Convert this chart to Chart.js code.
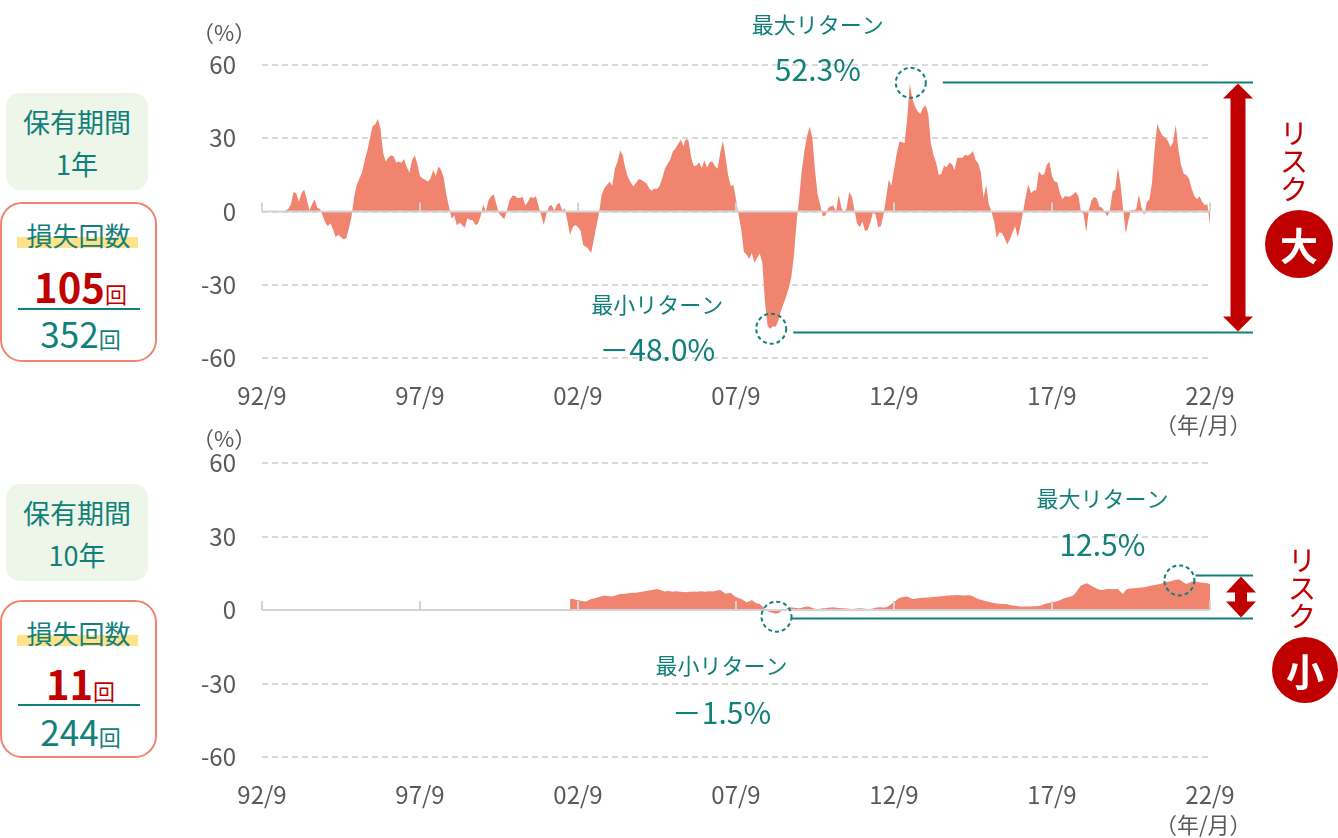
<!DOCTYPE html>
<html lang="ja">
<head>
<meta charset="utf-8">
<script src="https://cdn.jsdelivr.net/npm/chart.js@4"></script>
<style>
  html, body { margin: 0; padding: 0; background: #fff; }
  body { width: 1338px; height: 838px; position: relative; overflow: hidden;
         font-family: "Noto Sans CJK JP", sans-serif; }
  canvas { position: absolute; left: 180px; }
  .abs { position: absolute; white-space: nowrap; }
  .hold { position: absolute; left: 6px; width: 142px; height: 97px; box-sizing: border-box;
          border-radius: 14px; background: #eef6ea; color: #11807a; font-size: 27px;
          text-align: center; line-height: 42px; padding-top: 8px; }
  .loss { position: absolute; left: 0; width: 157px; height: 160px; box-sizing: border-box;
          border: 2px solid #f0846f; border-radius: 22px; background: #fff; }
  .loss div { position: absolute; left: 0; right: 0; text-align: center; }
  .loss .hl { left: 15px; right: 17px; height: 11px; background: #ffe28a; }
  .loss .ttl { color: #11807a; font-size: 26px; line-height: 30px; }
  .loss .cnt { color: #c00000; font-size: 40px; font-weight: bold; line-height: 44px; padding-left: 4px; }
  .loss .bar { left: 16px; right: 15px; height: 2px; background: #11807a; }
  .loss .tot { color: #11807a; font-size: 35px; line-height: 40px; padding-left: 4px; }
  .loss small { font-size: 22px; font-weight: normal; }
  .unit { color: #595959; font-size: 22px; }
  .risk { color: #c00000; font-size: 28px; line-height: 28px; width: 30px; text-align: center; }
  .dot { position: absolute; border-radius: 50%; background: #c00000; color: #fff;
         font-size: 38px; font-weight: bold; text-align: center; }
</style>
</head>
<body>
<canvas id="c1" width="1158" height="420" style="top:0"></canvas>
<canvas id="c2" width="1158" height="419" style="top:400px"></canvas>

<div class="abs unit" style="left:192px; top:15px">（%）</div>
<div class="abs unit" style="left:192px; top:421px">（%）</div>
<div class="abs unit" style="left:1155px; top:407px">（年/月）</div>
<div class="abs unit" style="left:1155px; top:807px">（年/月）</div>

<div class="hold" style="top:93px">保有期間<br>1年</div>
<div class="loss" style="top:202px">
  <div class="hl" style="top:33px"></div>
  <div class="ttl" style="top:16px">損失回数</div>
  <div class="cnt" style="top:60px">105<small>回</small></div>
  <div class="bar" style="top:104px"></div>
  <div class="tot" style="top:109px">352<small>回</small></div>
</div>

<div class="hold" style="top:484px">保有期間<br>10年</div>
<div class="loss" style="top:600px; height:158px">
  <div class="hl" style="top:33px"></div>
  <div class="ttl" style="top:16px">損失回数</div>
  <div class="cnt" style="top:59px">11<small>回</small></div>
  <div class="bar" style="top:102px"></div>
  <div class="tot" style="top:109px">244<small>回</small></div>
</div>

<div class="abs risk" style="left:1279px; top:118px">リ<br>ス<br>ク</div>
<div class="dot" style="left:1265px; top:210px; width:68px; height:68px; line-height:68px">大</div>
<div class="abs risk" style="left:1287px; top:545px">リ<br>ス<br>ク</div>
<div class="dot" style="left:1272px; top:637px; width:66px; height:66px; line-height:66px">小</div>

<script>
// 1年保有・10年保有の騰落率（%）、月次。ラベルは 92/9 〜 22/9
const tickLabels = ['92/9', '97/9', '02/9', '07/9', '12/9', '17/9', '22/9'];

const months = [];
for (let k = 0; k <= 360; k++) {
    const m = (8 + k) % 12 + 1;
    const yy = (92 + Math.floor((8 + k) / 12)) % 100;
    months.push(String(yy).padStart(2, '0') + '/' + m);
}

// 93/6 〜 22/9（352回）
const ret1y = [
    0.5, 1, 3, 8, 7.5, 4, 7.5, 9, 5, 0.5,
    3, 5, 1.5, 1, -1.5, -4.5, -6, -4.8, -7.5, -10.5,
    -9.5, -10.5, -11.4, -11, -7, -2, 6, 11, 13.5, 16,
    21, 25, 30, 35, 35.6, 38, 34, 24, 20.5, 22,
    23, 22.5, 20, 20.5, 20, 21.5, 18, 16, 21, 23,
    19.5, 14.5, 13.5, 13, 12.2, 13.5, 17, 14.5, 18.5, 17,
    14, 7, 2, -3, -1.5, -5.7, -4.6, -5.5, -6.7, -2.8,
    -3.5, -3.5, -5.5, -5, -2, 3, 0, 4.5, 6.3, 7,
    3, -0.8, -2, -3.2, 0.5, 4.5, 6.5, 6.5, 5.5, 5.5,
    6, 2.5, 4, 6, 5.5, 6.2, 2.5, -1.5, -5.5, -1,
    2.2, 2.7, 0.2, 3, 3.5, 0.3, 1.2, -4, -9.6, -6.4,
    -5.5, -6.3, -8, -13.8, -14.3, -15.5, -17, -11.5, -6, -0.5,
    7, 9.5, 11, 12.2, 10.5, 17.5, 20.5, 25, 23, 17.5,
    14, 12, 10.2, 11.7, 13.2, 13, 12.2, 11.6, 9.5, 8.5,
    9.4, 9.2, 10.5, 13.6, 17.5, 19.5, 21.2, 24.5, 25.8, 27.5,
    29.5, 26.8, 29.8, 29, 22, 18.5, 18.8, 20.2, 17.7, 21,
    18, 20.2, 20.5, 18.5, 17.5, 24, 29, 22.5, 15, 10.3,
    11, 5, -1.5, -7.5, -16.6, -17.6, -19.5, -17, -21, -19,
    -17.2, -21, -37, -47, -48, -47, -47.2, -45, -41, -38,
    -35, -31.5, -27, -18, -4.5, 5.5, 17, 25, 31, 34.8,
    30, 17, 7, 2.5, -2, -1.5, 1.4, 2.2, 2.5, 0,
    7, 1.5, -0.5, 1.3, 8, 6, 0.5, -5, -6.5, -4,
    -8, -7.6, -4.5, -0.5, -1.2, -6.5, -6, -1.3, 5.6, 13,
    10.5, 17, 23.5, 28.5, 28.5, 28, 38, 52.3, 46, 43,
    41, 40, 42.5, 43.5, 40, 28, 23, 20, 15, 15.5,
    18.7, 18.1, 20, 19.5, 17, 22, 22, 22, 23.2, 22.8,
    23.5, 24.8, 21, 19.8, 16, 5.5, 11, 3, 0, -4,
    -11, -8.5, -8.8, -11, -13.5, -11.5, -8.6, -6, -10.5, -6,
    0, 5.8, 11.2, 7.5, 8.6, 8.6, 16.5, 15, 15.2, 19,
    20.5, 14.5, 12.3, 12, 7.5, 5, 6.4, 6, 6.2, 7,
    8.1, 6.5, 0, -1, -8.5, 0.5, 4.5, 6, 5.2, 2,
    1.5, 0, -2, 0.5, 8.2, 9, 18, 11.5, 1, -9,
    -3.7, 0.7, 0.4, 1, 7, 1.5, -1.5, 3.8, 5, 12,
    26, 36, 33, 31, 30.3, 29, 26.3, 28.5, 35.5, 25.5,
    19, 15.5, 15, 13.5, 9.5, 6.5, 5, 6.2, 4, 2.7,
    3, -5.5,
];

// 02/6 〜 22/9（244回）
const ret10y = [
    4.5, 4.6, 4.2, 4.1, 3.8, 3.6, 3.5, 4.0, 4.5, 4.7,
    5.0, 5.3, 5.6, 5.9, 5.7, 5.6, 5.5, 5.8, 6.2, 6.5,
    6.5, 6.6, 6.8, 6.9, 7.0, 7.0, 7.2, 7.4, 7.6, 7.8,
    8.0, 8.2, 8.4, 8.6, 8.3, 7.9, 7.6, 7.8, 7.7, 7.5,
    7.7, 7.6, 7.4, 7.3, 7.2, 7.4, 7.5, 7.6, 7.5, 7.6,
    7.7, 7.5, 7.6, 7.7, 7.6, 7.8, 8.0, 8.2, 7.4, 6.6,
    6.8, 7.0, 6.0, 5.3, 4.9, 4.5, 3.9, 3.2, 3.5, 4.1,
    3.3, 2.7, 2.4, 1.5, 0.2, -0.5, -0.9, -1.1, -1.5, -1.3,
    -0.6, 0, 0.5, 0.9, 1.1, 0.9, 0.8, 0.7, 0.9, 1.2,
    1.4, 1.3, 0.8, 0.5, 0.3, 0.5, 0.7, 0.7, 0.9, 1.0,
    1.1, 0.9, 0.8, 0.7, 0.7, 0.6, 0.5, 0.4, 0.5, 0.6,
    0.7, 0.6, 0.5, 0.4, 0.4, 0.6, 0.9, 1.1, 1.1, 1.0,
    1.1, 1.6, 2.5, 3.3, 4.1, 4.9, 5.2, 5.4, 5.5, 5.0,
    4.5, 4.6, 4.8, 4.9, 5.0, 5.1, 5.1, 5.2, 5.3, 5.4,
    5.5, 5.6, 5.7, 5.9, 5.9, 6.0, 6.0, 6.1, 6.0, 5.9,
    5.9, 6.0, 6.0, 5.5, 5.0, 4.5, 4.2, 3.9, 3.6, 3.4,
    3.1, 2.9, 2.7, 2.6, 2.5, 2.5, 2.3, 2.0, 1.8, 1.7,
    1.5, 1.4, 1.4, 1.4, 1.4, 1.4, 1.5, 1.5, 1.6, 1.9,
    2.3, 2.7, 3.0, 3.2, 3.4, 3.6, 4.0, 4.5, 4.9, 5.2,
    5.5, 5.9, 7.0, 8.6, 10.0, 10.4, 10.9, 10.5, 9.8, 9.3,
    8.8, 8.3, 8.2, 8.4, 8.6, 8.6, 8.5, 8.6, 8.6, 7.5,
    6.5, 8.2, 8.7, 8.8, 8.9, 9.0, 9.1, 9.2, 9.3, 9.5,
    9.8, 10.0, 10.2, 10.4, 10.6, 10.9, 11.2, 11.5, 11.7, 12.0,
    12.3, 12.5, 12.0, 11.2, 10.6, 11.0, 11.5, 11.7, 11.5, 11.3,
    11.1, 11.0, 10.9, 10.5,
];

const TEAL = '#11807a';
const RED = '#c00000';
const FILL = '#f0846f';
const TEXT = '#595959';
const FONT = '"Noto Sans CJK JP", sans-serif';

Chart.defaults.font.family = FONT;

function doubleArrow(ctx, ax, y1, y2, head, hw, sw) {
    ctx.beginPath();
    ctx.moveTo(ax, y1);
    ctx.lineTo(ax + hw, y1 + head);
    ctx.lineTo(ax + sw, y1 + head);
    ctx.lineTo(ax + sw, y2 - head);
    ctx.lineTo(ax + hw, y2 - head);
    ctx.lineTo(ax, y2);
    ctx.lineTo(ax - hw, y2 - head);
    ctx.lineTo(ax - sw, y2 - head);
    ctx.lineTo(ax - sw, y1 + head);
    ctx.lineTo(ax - hw, y1 + head);
    ctx.closePath();
    ctx.fill();
}

// ゼロ線・目盛り・最大/最小の注記
const marksPlugin = {
    id: 'marks',
    afterDatasetsDraw(chart, args, o) {
        const { ctx, chartArea: a, scales: { x, y } } = chart;
        const vals = chart.data.datasets[0].data;
        ctx.save();

        const y0 = y.getPixelForValue(0);
        ctx.strokeStyle = '#d4d4d4';
        ctx.lineWidth = 2;
        ctx.beginPath();
        ctx.moveTo(a.left, y0);
        ctx.lineTo(a.right, y0);
        tickLabels.forEach((t) => {
            const px = Math.round(x.getPixelForValue(months.indexOf(t)));
            ctx.moveTo(px, y0);
            ctx.lineTo(px, y0 - 9);
        });
        ctx.stroke();

        let hi = -1, lo = -1;
        vals.forEach((v, i) => {
            if (v == null) return;
            if (hi < 0 || v > vals[hi]) hi = i;
            if (lo < 0 || v < vals[lo]) lo = i;
        });

        const items = [
            { i: hi, c: o.max, title: '最大リターン', text: vals[hi].toFixed(1) + '%' },
            { i: lo, c: o.min, title: '最小リターン', text: '－' + Math.abs(vals[lo]).toFixed(1) + '%' },
        ];
        const lineY = [];
        items.forEach((it) => {
            const px = x.getPixelForValue(it.i);
            const py = y.getPixelForValue(vals[it.i]);
            const c = it.c;

            ctx.strokeStyle = TEAL;
            ctx.lineWidth = 2;
            ctx.setLineDash([4, 3]);
            ctx.beginPath();
            ctx.arc(px + 1, py + c.cy, 15, 0, Math.PI * 2);
            ctx.stroke();

            ctx.setLineDash([]);
            const ly = Math.round(py + c.ly) + 0.5;
            lineY.push(ly);
            ctx.beginPath();
            ctx.moveTo(px + c.lx, ly);
            ctx.lineTo(o.lineEnd, ly);
            ctx.stroke();

            ctx.fillStyle = TEAL;
            ctx.textAlign = 'center';
            ctx.textBaseline = 'middle';
            ctx.font = '22px ' + FONT;
            ctx.fillText(it.title, px + c.tx, py + c.ty1);
            ctx.font = '30px ' + FONT;
            ctx.fillText(it.text, px + c.tx, py + c.ty2);
        });

        ctx.fillStyle = RED;
        doubleArrow(ctx, o.arrowX, lineY[0] + 1, lineY[1] - 1, o.head, 15, o.shaft);
        ctx.restore();
    },
};

function makeChart(id, values, padTop, marks) {
    const data = Array(months.length - values.length).fill(null).concat(values);
    return new Chart(document.getElementById(id), {
        type: 'line',
        data: {
            labels: months,
            datasets: [{
                data,
                fill: 'origin',
                backgroundColor: FILL,
                borderWidth: 0,
                pointRadius: 0,
                tension: 0,
            }],
        },
        options: {
            responsive: false,
            animation: false,
            layout: { padding: { top: padTop, right: 128, left: 0, bottom: 0 } },
            plugins: {
                legend: { display: false },
                tooltip: { enabled: false },
                marks,
            },
            scales: {
                x: {
                    grid: { display: false, drawTicks: false },
                    border: { display: false },
                    ticks: {
                        autoSkip: false,
                        maxRotation: 0,
                        minRotation: 0,
                        padding: 23,
                        color: TEXT,
                        font: { size: 24 },
                        callback: (v, i) => tickLabels.includes(months[i]) ? months[i] : null,
                    },
                    afterFit: (s) => { s.height = 62; },
                },
                y: {
                    min: -60,
                    max: 60,
                    ticks: { stepSize: 30, padding: 26, color: TEXT, font: { size: 24 } },
                    grid: { color: '#d9d9d9', lineWidth: 2, drawTicks: false },
                    border: { display: false, dash: [6, 4] },
                    afterFit: (s) => { s.width = 82; },
                },
            },
        },
        plugins: [marksPlugin],
    });
}

makeChart('c1', ret1y, 65, {
    max: { cy: -1, lx: 33, ly: -2, tx: -92, ty1: -59, ty2: -14 },
    min: { cy: 0, lx: 23, ly: 3, tx: -113, ty1: -24, ty2: 21 },
    lineEnd: 1073, arrowX: 1058, head: 15, shaft: 7.5,
});

makeChart('c2', ret10y, 63, {
    max: { cy: 1, lx: 17, ly: -4, tx: -76, ty1: -81, ty2: -35 },
    min: { cy: 3, lx: 16, ly: 4, tx: -54, ty1: 52, ty2: 99 },
    lineEnd: 1073, arrowX: 1061, head: 16, shaft: 6,
});
</script>
</body>
</html>
